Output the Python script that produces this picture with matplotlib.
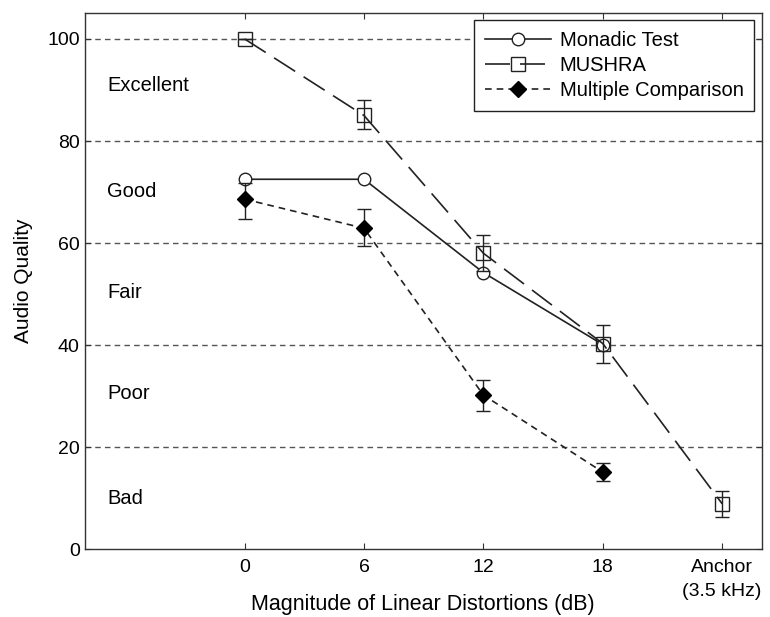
import matplotlib
matplotlib.use("Agg")
import matplotlib.pyplot as plt
from matplotlib.lines import Line2D

plt.rcParams['font.family'] = ['Liberation Sans', 'DejaVu Sans']

tick_labels = ["0", "6", "12", "18", "Anchor\n(3.5 kHz)"]

# Monadic test: four distortion levels, no anchor
monadic_x = [0, 1, 2, 3]
monadic_y = [72.5, 72.5, 54.2, 40.1]

# MUSHRA, with anchor
mushra_x = [0, 1, 2, 3, 4]
mushra_y = [100.0, 85.0, 58.0, 40.3, 8.9]
mushra_lo = [0.0, 2.7, 3.5, 3.8, 2.6]
mushra_hi = [0.0, 3.0, 3.5, 3.7, 2.5]

# Multiple comparison
multi_x = [0, 1, 2, 3]
multi_y = [68.6, 62.9, 30.2, 15.1]
multi_lo = [3.8, 3.4, 3.1, 1.7]
multi_hi = [3.1, 3.7, 3.0, 1.8]

quality_labels = ["Excellent", "Good", "Fair", "Poor", "Bad"]
quality_y = [90.8, 70.2, 50.4, 30.5, 10.0]

ink = "#222222"
mushra_ls = (0, (15, 6))
multi_ls = (0, (4, 3))

fig = plt.figure(figsize=(7.7, 6.17), dpi=100)
ax = fig.add_axes([0.110, 0.110, 0.879, 0.869])

for g in [20, 40, 60, 80, 100]:
    ax.axhline(g, color="#555555", lw=1.0, ls=(0, (4, 3)), zorder=1)

ax.plot(monadic_x, monadic_y, color=ink, lw=1.2, marker="o", ms=9,
        mfc="white", mec=ink, zorder=3)
ax.errorbar(mushra_x, mushra_y, yerr=[mushra_lo, mushra_hi], color=ink,
            lw=1.2, ls=mushra_ls, marker="s", ms=10, mfc="none",
            mec=ink, capsize=5, elinewidth=1.0, zorder=4)
ax.errorbar(multi_x, multi_y, yerr=[multi_lo, multi_hi], color=ink,
            lw=1.2, ls=multi_ls, marker="D", ms=8.5, mfc="black",
            mec="black", capsize=5, elinewidth=1.0, zorder=4)

for lab, yv in zip(quality_labels, quality_y):
    ax.text(-1.15, yv, lab, fontsize=14.5, va="center", ha="left")

ax.set_xlim(-1.34, 4.33)
ax.set_ylim(0, 105.1)
ax.set_xticks(range(len(tick_labels)))
ax.set_xticklabels(tick_labels, fontsize=14, linespacing=1.55)
ax.set_yticks([0, 20, 40, 60, 80, 100])
ax.tick_params(axis="y", labelsize=14)
ax.tick_params(direction="in", top=True, right=True, length=4, color="#333333")
ax.tick_params(axis="x", pad=7)
ax.set_xlabel("Magnitude of Linear Distortions (dB)", fontsize=15.5,
              va="center")
ax.xaxis.set_label_coords(0.5, -0.103)
ax.set_ylabel("Audio Quality", fontsize=15, labelpad=10)
for s in ax.spines.values():
    s.set_color("#333333")
    s.set_linewidth(1.0)

handles = [
    Line2D([], [], color=ink, lw=1.2, marker="o", ms=9, mfc="white", mec=ink),
    Line2D([], [], color=ink, lw=1.2, ls=mushra_ls, marker="s", ms=10,
           mfc="none", mec=ink),
    Line2D([], [], color=ink, lw=1.2, ls=multi_ls, marker="D", ms=8.5,
           mfc="black", mec="black"),
]
leg = ax.legend(handles, ["Monadic Test", "MUSHRA", "Multiple Comparison"],
                loc="upper right", fontsize=14.5, fancybox=False,
                edgecolor=ink, framealpha=1, handlelength=3.3,
                handletextpad=0.4, borderaxespad=0.35, labelspacing=0.3,
                borderpad=0.55)
leg.get_frame().set_linewidth(1.0)

fig.savefig("out.png", dpi=100)
